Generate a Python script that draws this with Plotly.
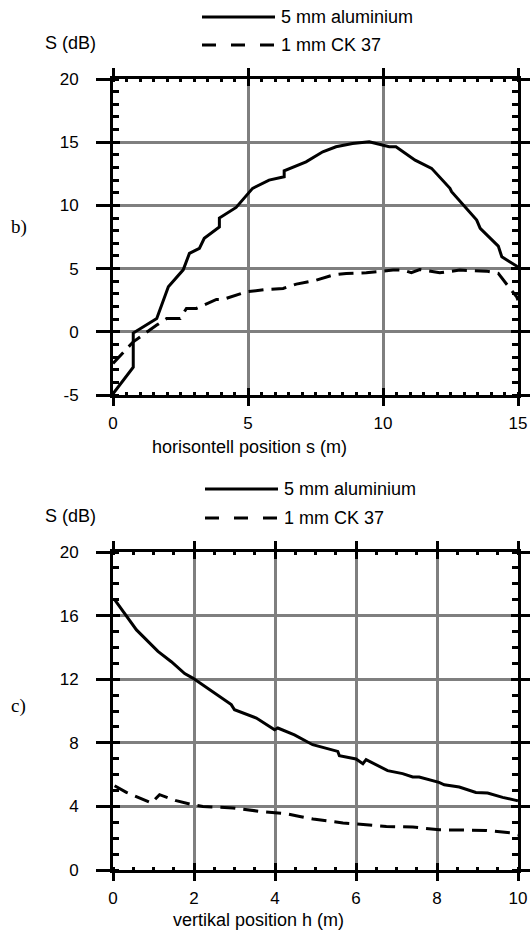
import plotly.graph_objects as go

W, H = 530, 933

# ---------------- data: panel b) horizontal position ----------------
s_alu = [0.0, 0.75, 0.75, 1.62, 2.05, 2.54, 2.6, 2.83, 3.2, 3.38, 3.94, 3.94, 4.56, 5.17, 5.78,
         6.34, 6.34, 7.15, 7.77, 8.26, 8.87, 9.49, 9.86, 10.23, 10.48, 11.19, 11.8, 12.48,
         12.54, 13.47, 13.6, 14.27, 14.4, 14.95, 15.0]
S_alu_b = [-4.9, -2.8, -0.1, 1.06, 3.56, 4.75, 4.9, 6.2, 6.6, 7.4, 8.3, 9.0, 9.84, 11.35, 12.0,
           12.26, 12.74, 13.45, 14.24, 14.64, 14.9, 15.03, 14.85, 14.64, 14.64, 13.58, 12.93,
           11.35, 11.08, 8.84, 8.18, 6.78, 5.93, 5.2, 5.05]
s_ck = [0.0, 0.75, 1.62, 1.99, 2.49, 2.72, 3.09, 3.83, 4.07, 4.94, 5.68, 6.3, 6.79, 7.53, 8.15,
        8.64, 9.38, 10.37, 10.74, 11.05, 11.36, 12.1, 12.84, 13.83, 14.27, 14.45, 14.7, 14.95, 15.0]
S_ck_b = [-2.5, -0.79, 0.53, 1.06, 1.06, 1.85, 1.85, 2.56, 2.56, 3.16, 3.35, 3.43, 3.77, 4.09,
          4.49, 4.62, 4.67, 4.88, 4.88, 4.67, 4.93, 4.67, 4.88, 4.8, 4.62, 4.09, 3.43, 2.77, 2.5]

# ---------------- data: panel c) vertical position ----------------
h_alu = [0.04, 0.58, 1.11, 1.44, 1.77, 1.97, 2.92, 3.0, 3.54, 3.99, 4.07, 4.48, 4.93, 5.55,
         5.59, 6.0, 6.17, 6.25, 6.78, 7.15, 7.4, 7.56, 8.05, 8.18, 8.55, 8.96, 9.25, 9.62, 9.95, 10.0]
S_alu_c = [17.0, 15.1, 13.75, 13.1, 12.35, 12.07, 10.4, 10.08, 9.56, 8.82, 8.93, 8.5, 7.88, 7.46,
           7.19, 6.98, 6.69, 6.94, 6.25, 6.06, 5.85, 5.85, 5.51, 5.36, 5.22, 4.88, 4.84, 4.57, 4.38, 4.35]
h_ck = [0.04, 0.33, 0.95, 1.15, 1.56, 1.97, 2.22, 2.96, 3.62, 4.28, 4.61, 4.94, 5.68, 6.34, 6.75,
        7.4, 8.06, 9.21, 9.83, 10.0]
S_ck_c = [5.3, 4.88, 4.21, 4.74, 4.36, 4.1, 4.0, 3.9, 3.69, 3.54, 3.37, 3.21, 2.96, 2.85, 2.74,
          2.7, 2.53, 2.49, 2.33, 2.2]

series_names = ["5 mm aluminium", "1 mm CK 37"]
panel_labels = ["b)", "c)"]
x_titles = ["horisontell position s (m)", "vertikal position h (m)"]
y_title = "S (dB)"
xb_ticks = [0, 5, 10, 15]
yb_ticks = [-5, 0, 5, 10, 15, 20]
xc_ticks = [0, 2, 4, 6, 8, 10]
yc_ticks = [0, 4, 8, 12, 16, 20]

FONT = "Liberation Sans, Arial, sans-serif"
SERIF = "Liberation Serif, Times New Roman, serif"
LW = 3
AXW = 3
DASH = "15px,8px"

def px(x):
    return x / W

def py(y):
    return 1 - y / H

xdom = [px(113), px(518)]
ydom_b = [py(395), py(79)]
ydom_c = [py(870), py(552)]

fig = go.Figure()
fig.add_trace(go.Scatter(x=s_alu, y=S_alu_b, mode="lines", name=series_names[0],
                         line=dict(color="black", width=LW), xaxis="x", yaxis="y", showlegend=False))
fig.add_trace(go.Scatter(x=s_ck, y=S_ck_b, mode="lines", name=series_names[1],
                         line=dict(color="black", width=LW, dash=DASH), xaxis="x", yaxis="y", showlegend=False))
fig.add_trace(go.Scatter(x=h_alu, y=S_alu_c, mode="lines", name=series_names[0],
                         line=dict(color="black", width=LW), xaxis="x2", yaxis="y2", showlegend=False))
fig.add_trace(go.Scatter(x=h_ck, y=S_ck_c, mode="lines", name=series_names[1],
                         line=dict(color="black", width=LW, dash=DASH), xaxis="x2", yaxis="y2", showlegend=False))

def main_x(dom, rng, ticks, anchor, minor_dtick):
    return dict(domain=dom, range=rng, anchor=anchor, tickmode="array", tickvals=ticks,
                ticktext=[str(t) for t in ticks],
                showline=True, linecolor="black", linewidth=AXW, mirror="ticks",
                ticks="outside", ticklen=8, tickwidth=AXW, tickcolor="black",
                showgrid=True, gridcolor="#7f7f7f", gridwidth=3, zeroline=False,
                tickfont=dict(family=FONT, size=17, color="black"), ticklabelstandoff=3,
                minor=dict(ticks="inside", dtick=minor_dtick, ticklen=3, tickwidth=3,
                           tickcolor="black", showgrid=False),
                fixedrange=True, automargin=False)

def main_y(dom, rng, ticks, anchor, minor_dtick):
    return dict(domain=dom, range=rng, anchor=anchor, tickmode="array", tickvals=ticks,
                ticktext=[str(t) for t in ticks],
                showline=True, linecolor="black", linewidth=AXW, mirror="ticks",
                ticks="outside", ticklen=14, tickwidth=AXW, tickcolor="black",
                showgrid=True, gridcolor="#7f7f7f", gridwidth=3, zeroline=False,
                tickfont=dict(family=FONT, size=17, color="black"), ticklabelstandoff=14,
                minor=dict(ticks="inside", dtick=minor_dtick, ticklen=6, tickwidth=3,
                           tickcolor="black", showgrid=False),
                fixedrange=True, automargin=False)

def inner_axis(dom, rng, ticks, anchor, overlay):
    return dict(domain=dom, range=rng, anchor=anchor, overlaying=overlay, tickmode="array",
                tickvals=ticks, showticklabels=False, showline=False, showgrid=False,
                zeroline=False, mirror="ticks", ticks="inside", ticklen=7, tickwidth=AXW,
                tickcolor="black", fixedrange=True, automargin=False)

fig.update_layout(
    width=W, height=H,
    margin=dict(l=0, r=0, t=0, b=0),
    paper_bgcolor="white", plot_bgcolor="white",
    xaxis=main_x(xdom, [0, 15], xb_ticks, "y", 0.5),
    yaxis=main_y(ydom_b, [-5, 20], yb_ticks, "x", 1),
    xaxis2=main_x(xdom, [0, 10], xc_ticks, "y2", 0.5),
    yaxis2=main_y(ydom_c, [0, 20], yc_ticks, "x2", 1),
    xaxis3=inner_axis(xdom, [0, 15], xb_ticks, "y", "x"),
    yaxis3=inner_axis(ydom_b, [-5, 20], yb_ticks, "x", "y"),
    xaxis4=inner_axis(xdom, [0, 10], xc_ticks, "y2", "x2"),
    yaxis4=inner_axis(ydom_c, [0, 20], yc_ticks, "x2", "y2"),
    showlegend=False,
)

# invisible traces to activate the overlay (inner tick) axes
fig.add_trace(go.Scatter(x=[None], y=[None], xaxis="x3", yaxis="y3", showlegend=False, hoverinfo="skip"))
fig.add_trace(go.Scatter(x=[None], y=[None], xaxis="x4", yaxis="y4", showlegend=False, hoverinfo="skip"))

annotations = []
shapes = []

def legend_block(y_solid, y_dash, x0, x1, xt):
    shapes.append(dict(type="line", xref="paper", yref="paper", x0=px(x0), x1=px(x1),
                       y0=py(y_solid), y1=py(y_solid), line=dict(color="black", width=LW)))
    shapes.append(dict(type="line", xref="paper", yref="paper", x0=px(x0), x1=px(x1),
                       y0=py(y_dash), y1=py(y_dash), line=dict(color="black", width=LW, dash="14px,15px")))
    for yy, name in [(y_solid, series_names[0]), (y_dash, series_names[1])]:
        annotations.append(dict(text=name, xref="paper", yref="paper", x=px(xt), y=py(yy),
                                xanchor="left", yanchor="middle", showarrow=False,
                                font=dict(family=FONT, size=18, color="black")))

legend_block(17, 45, 202, 275, 279)
legend_block(489, 518, 205, 278, 282)

for yy in [43, 516]:
    annotations.append(dict(text=y_title, xref="paper", yref="paper", x=px(70), y=py(yy),
                            xanchor="center", yanchor="middle", showarrow=False,
                            font=dict(family=FONT, size=18, color="black")))

for yy, lab in [(227, panel_labels[0]), (706, panel_labels[1])]:
    annotations.append(dict(text=lab, xref="paper", yref="paper", x=px(9), y=py(yy),
                            xanchor="left", yanchor="middle", showarrow=False,
                            font=dict(family=SERIF, size=19, color="black")))

for (xx, yy), t in [((249, 447), x_titles[0]), ((258, 920), x_titles[1])]:
    annotations.append(dict(text=t, xref="paper", yref="paper", x=px(xx), y=py(yy),
                            xanchor="center", yanchor="middle", showarrow=False,
                            font=dict(family=FONT, size=18, color="black")))

fig.update_layout(annotations=annotations, shapes=shapes)

fig.write_html("out.html")
